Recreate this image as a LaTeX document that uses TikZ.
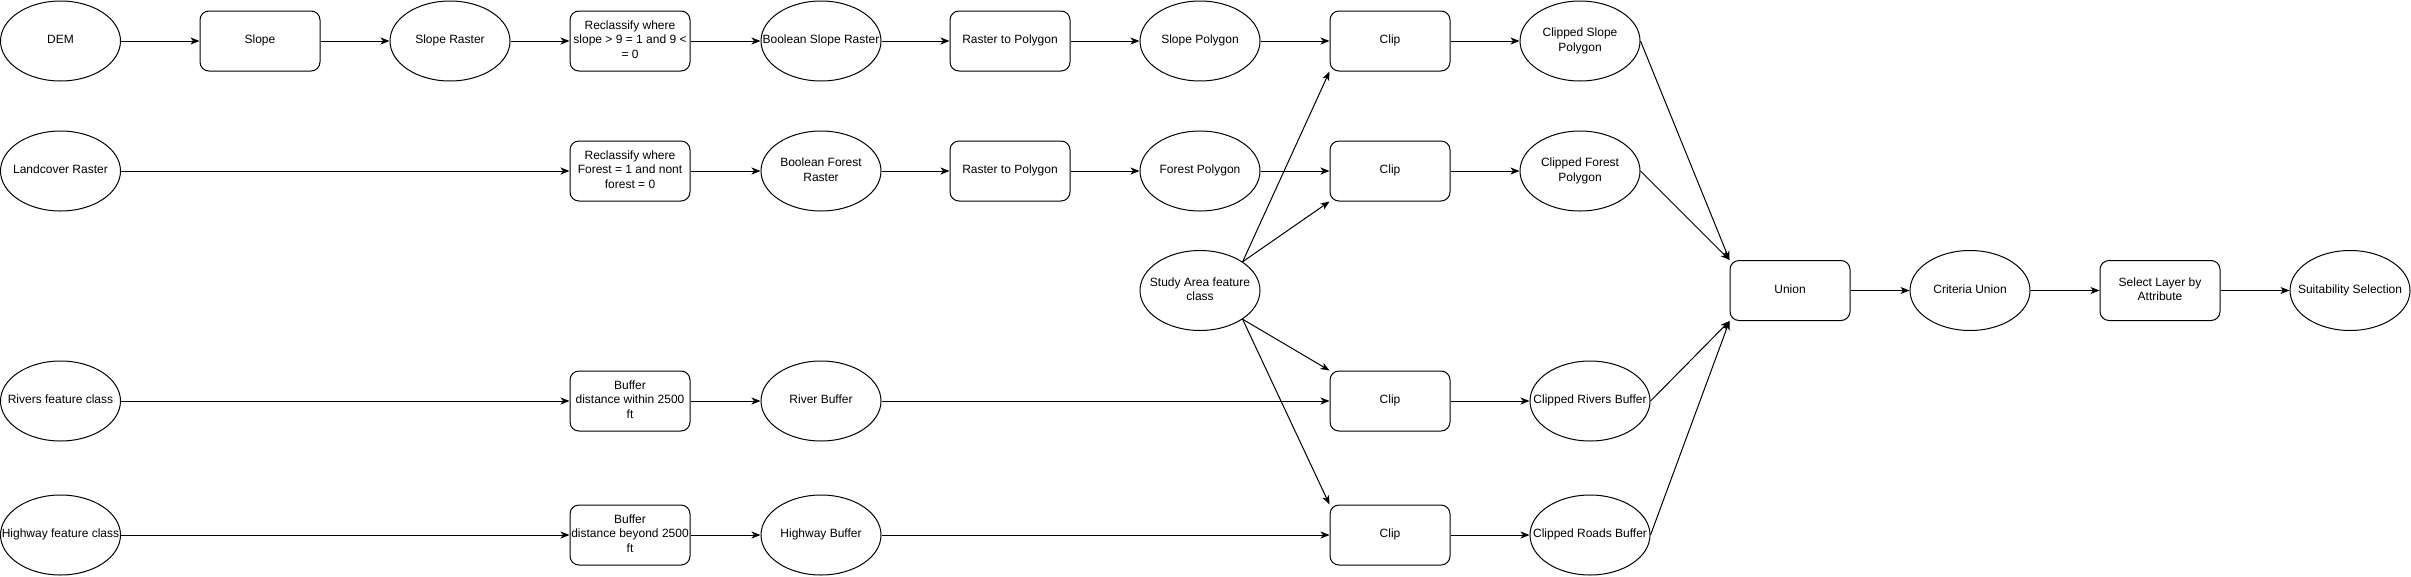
\documentclass[tikz,border=0pt]{standalone}
\usepackage{fontspec}
\setmainfont{Liberation Sans}
\usetikzlibrary{shapes.geometric,arrows.meta}
\newcommand{\tx}[1]{\makebox[0pt]{\begin{tabular}{@{}c@{}}#1\end{tabular}}}
\begin{document}
\begin{tikzpicture}[x=1pt,y=-1pt,
  every node/.style={font=\fontsize{12}{14.4}\selectfont, line width=1pt},
  ell/.style={ellipse, draw, minimum width=120pt, minimum height=80pt, inner sep=0pt},
  pbox/.style={rectangle, rounded corners=9pt, draw, minimum width=120pt, minimum height=60pt, inner sep=0pt},
  arr/.style={-{Stealth[length=9pt,width=7pt,inset=2.5pt]}, line width=1pt}]
\useasboundingbox (0,0) rectangle (2411,576);
% row 1
\node[ell]  (dem)   at (60.5,41)  {\tx{DEM}};
\node[pbox] (slope) at (260,41)   {\tx{Slope}};
\node[ell]  (sr)    at (450,41)   {\tx{Slope Raster}};
\node[pbox] (rc1)   at (630,41)   {\tx{Reclassify where\\slope > 9 = 1 and 9 <\\= 0}};
\node[ell]  (bsr)   at (821,41)   {\tx{Boolean Slope Raster}};
\node[pbox] (rtp1)  at (1010,41)  {\tx{Raster to Polygon}};
\node[ell]  (sp)    at (1200,41)  {\tx{Slope Polygon}};
\node[pbox] (clip1) at (1390,41)  {\tx{Clip}};
\node[ell]  (csp)   at (1580,41)  {\tx{Clipped Slope\\Polygon}};
% row 2
\node[ell]  (lc)    at (60.5,171) {\tx{Landcover Raster}};
\node[pbox] (rc2)   at (630,171)  {\tx{Reclassify where\\Forest = 1 and nont\\forest = 0}};
\node[ell]  (bfr)   at (821,171)  {\tx{Boolean Forest\\Raster}};
\node[pbox] (rtp2)  at (1010,171) {\tx{Raster to Polygon}};
\node[ell]  (fp)    at (1200,171) {\tx{Forest Polygon}};
\node[pbox] (clip2) at (1390,171) {\tx{Clip}};
\node[ell]  (cfp)   at (1580,171) {\tx{Clipped Forest\\Polygon}};
% middle
\node[ell]  (sa)    at (1200,290.5) {\tx{Study Area feature\\class}};
\node[pbox] (union) at (1790,290.5) {\tx{Union}};
\node[ell]  (cu)    at (1970,290.5) {\tx{Criteria Union}};
\node[pbox] (sel)   at (2160,290.5) {\tx{Select Layer by\\Attribute}};
\node[ell]  (ss)    at (2350,290.5) {\tx{Suitability Selection}};
% row 3
\node[ell]  (rivers) at (60.5,401) {\tx{Rivers feature class}};
\node[pbox] (buf1)   at (630,401)  {\tx{Buffer\\distance within 2500\\ft}};
\node[ell]  (rb)     at (821,401)  {\tx{River Buffer}};
\node[pbox] (clip3)  at (1390,401) {\tx{Clip}};
\node[ell]  (crb)    at (1590,401) {\tx{Clipped Rivers Buffer}};
% row 4
\node[ell]  (hw)     at (60.5,535) {\tx{Highway feature class}};
\node[pbox] (buf2)   at (630,535)  {\tx{Buffer\\distance beyond 2500\\ft}};
\node[ell]  (hb)     at (821,535)  {\tx{Highway Buffer}};
\node[pbox] (clip4)  at (1390,535) {\tx{Clip}};
\node[ell]  (crd)    at (1590,535) {\tx{Clipped Roads Buffer}};
% connectors
\draw[arr] (dem) -- (slope);
\draw[arr] (slope) -- (sr);
\draw[arr] (sr) -- (rc1);
\draw[arr] (rc1) -- (bsr);
\draw[arr] (bsr) -- (rtp1);
\draw[arr] (rtp1) -- (sp);
\draw[arr] (sp) -- (clip1);
\draw[arr] (clip1) -- (csp);
\draw[arr] (lc) -- (rc2);
\draw[arr] (rc2) -- (bfr);
\draw[arr] (bfr) -- (rtp2);
\draw[arr] (rtp2) -- (fp);
\draw[arr] (fp) -- (clip2);
\draw[arr] (clip2) -- (cfp);
\draw[arr] (rivers) -- (buf1);
\draw[arr] (buf1) -- (rb);
\draw[arr] (rb) -- (clip3);
\draw[arr] (clip3) -- (crb);
\draw[arr] (hw) -- (buf2);
\draw[arr] (buf2) -- (hb);
\draw[arr] (hb) -- (clip4);
\draw[arr] (clip4) -- (crd);
\draw[arr] (sa.34) -- (clip1.south west);
\draw[arr] (sa.34) -- (clip2.south west);
\draw[arr] (sa.-34) -- (clip3.north west);
\draw[arr] (sa.-34) -- (clip4.north west);
\draw[arr] (csp.east) -- (union.north west);
\draw[arr] (cfp.east) -- (union.north west);
\draw[arr] (crb.east) -- (union.south west);
\draw[arr] (crd.east) -- (union.south west);
\draw[arr] (union) -- (cu);
\draw[arr] (cu) -- (sel);
\draw[arr] (sel) -- (ss);
\end{tikzpicture}
\end{document}
